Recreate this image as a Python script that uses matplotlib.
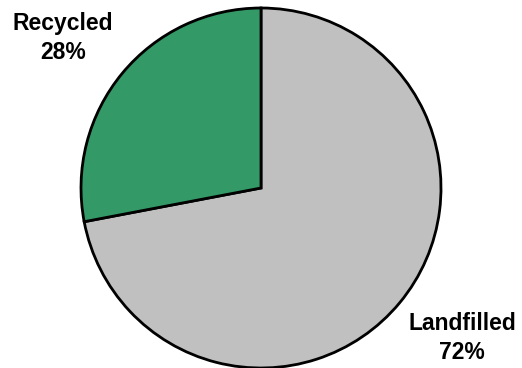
import matplotlib.pyplot as plt

# waste share by destination
labels = ['Landfilled', 'Recycled']
shares = [72, 28]
colors = ['#c0c0c0', '#339966']

W, H = 522, 368
fig = plt.figure(figsize=(W / 100, H / 100), dpi=100)
ax = fig.add_axes([0, 0, 1, 1])

ax.pie(shares, colors=colors, startangle=90, counterclock=False,
       center=(261, 180), radius=180,
       wedgeprops=dict(edgecolor='black', linewidth=2))
ax.set_xlim(0, W)
ax.set_ylim(0, H)
ax.set_aspect('equal')
ax.axis('off')

# labels sit outside the pie
label_pos = {'Landfilled': (462, 30), 'Recycled': (63, 330)}
for lab, val in zip(labels, shares):
    x, y = label_pos[lab]
    ax.text(x, y, f'{lab}\n{val}%', ha='center', va='center',
            fontsize=16.5, fontweight='bold', family='Liberation Sans',
            linespacing=1.3)

fig.savefig('out.png', dpi=100)
